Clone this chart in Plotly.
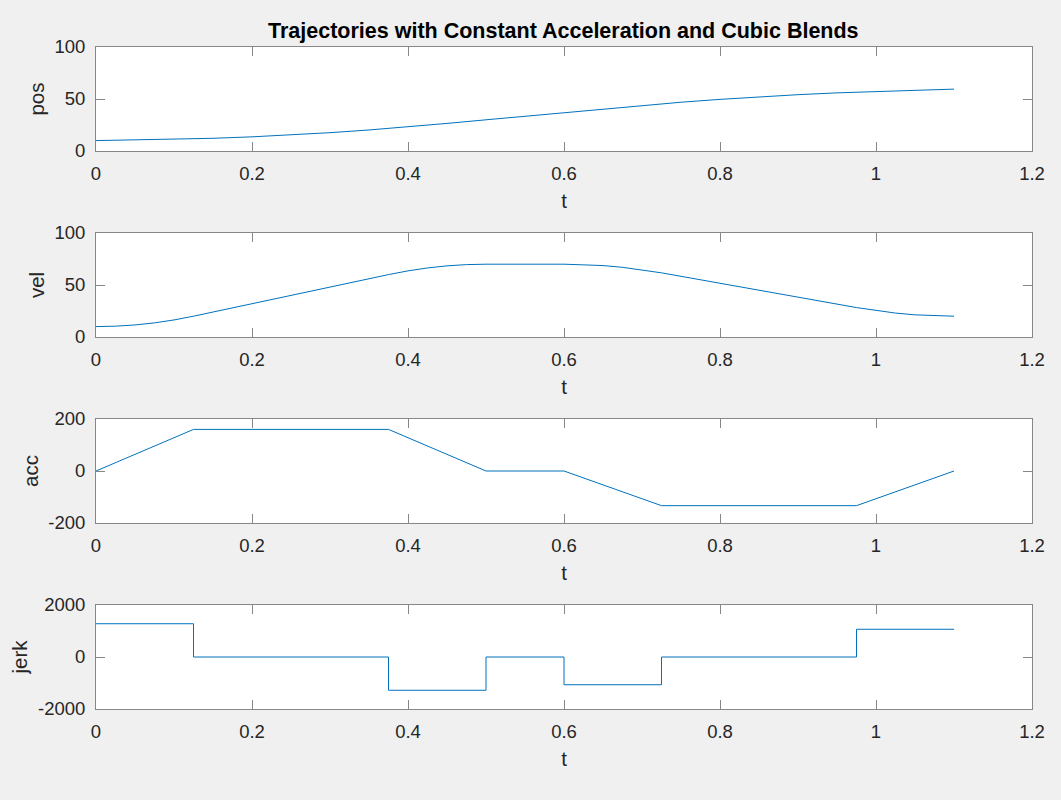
import plotly.graph_objects as go

# ---- data ----
t_pos = [0, 0.05, 0.1, 0.15, 0.2, 0.25, 0.3, 0.35, 0.4, 0.45, 0.5, 0.55, 0.6,
         0.65, 0.7, 0.75, 0.8, 0.85, 0.9, 0.95, 1.0, 1.05, 1.1]
pos = [10, 10.53, 11.21, 12.22, 13.62, 15.42, 17.62, 20.22, 23.21, 26.53, 30,
       33.5, 37, 40.48, 43.82, 46.90, 49.65, 52.07, 54.15, 55.90, 57.32, 58.48, 59.5]

t_vel = [0, 0.025, 0.05, 0.075, 0.1, 0.125, 0.375, 0.4, 0.425, 0.45, 0.475, 0.5,
         0.6, 0.625, 0.65, 0.675, 0.7, 0.725, 0.975, 1.0, 1.025, 1.05, 1.075, 1.1]
vel = [10, 10.4, 11.6, 13.6, 16.4, 20, 60, 63.6, 66.4, 68.4, 69.6, 70,
       70, 69.7, 68.7, 67.0, 64.7, 61.7, 28.3, 25.3, 23.0, 21.3, 20.3, 20]

t_acc = [0, 0.125, 0.375, 0.5, 0.6, 0.725, 0.975, 1.1]
acc = [0, 160, 160, 0, 0, -133.3, -133.3, 0]

t_jerk = [0, 0.125, 0.375, 0.5, 0.6, 0.725, 0.975, 1.1]
jerk = [1280, 0, -1280, 0, -1067, 0, 1067, 1067]

x_ticks = [0, 0.2, 0.4, 0.6, 0.8, 1.0, 1.2]
x_ticktext = ["0", "0.2", "0.4", "0.6", "0.8", "1", "1.2"]
y_labels = ["pos", "vel", "acc", "jerk"]
y_ranges = [[0, 100], [0, 100], [-200, 200], [-2000, 2000]]
y_ticks = [[0, 50, 100], [0, 50, 100], [-200, 0, 200], [-2000, 0, 2000]]
y_ticktext = [["0", "50", "100"], ["0", "50", "100"],
              ["-200", "0", "200"], ["-2000", "0", "2000"]]
title = "Trajectories with Constant Acceleration and Cubic Blends"

# ---- styling ----
W, H = 1061, 800
FONT = "Liberation Sans, Arial, sans-serif"
TXT = "#262626"
AX = "#878787"
LINE = "#0072BD"
TICK_FS = 18.5
LABEL_FS = 20.5
TITLE_FS = 21.5
x_dom = [96 / W, 1032 / W]
tops = [47, 233, 419, 605]
heights = 104

fig = go.Figure()
series = [(t_pos, pos, "linear"), (t_vel, vel, "linear"),
          (t_acc, acc, "linear"), (t_jerk, jerk, "hv")]
for i, (tx, ty, shape) in enumerate(series):
    k = "" if i == 0 else str(i + 1)
    fig.add_trace(go.Scatter(x=tx, y=ty, mode="lines",
                             line=dict(color=LINE, width=1, shape=shape),
                             xaxis="x" + k, yaxis="y" + k, showlegend=False))

layout = dict(
    template="none",
    width=W, height=H, autosize=False,
    margin=dict(l=0, r=0, t=0, b=0, pad=0),
    paper_bgcolor="#F0F0F0", plot_bgcolor="white",
    font=dict(family=FONT, size=TICK_FS, color=TXT),
    showlegend=False,
)
for i in range(4):
    k = "" if i == 0 else str(i + 1)
    top = tops[i]
    ydom = [1 - (top + heights) / H, 1 - top / H]
    common = dict(showline=True, mirror="allticks", linecolor=AX, linewidth=1,
                  ticks="inside", ticklen=9, tickcolor=AX, tickwidth=1,
                  showgrid=False, zeroline=False, automargin=False,
                  tickfont=dict(family=FONT, size=TICK_FS, color=TXT))
    layout["xaxis" + k] = dict(domain=x_dom, range=[0, 1.2], anchor="y" + k,
                               tickvals=x_ticks, ticktext=x_ticktext,
                               ticklabelstandoff=6,
                               title=dict(text="t", standoff=10,
                                          font=dict(family=FONT, size=LABEL_FS, color=TXT)),
                               **common)
    layout["yaxis" + k] = dict(domain=ydom, range=y_ranges[i], anchor="x" + k,
                               tickvals=y_ticks[i], ticktext=y_ticktext[i],
                               ticklabelstandoff=6,
                               title=dict(text=y_labels[i], standoff=4,
                                          font=dict(family=FONT, size=LABEL_FS, color=TXT)),
                               **common)
fig.update_layout(**layout)
fig.add_annotation(text="<b>" + title + "</b>", xref="paper", yref="paper",
                   x=(x_dom[0] + x_dom[1]) / 2, y=1 - 31 / H, xanchor="center",
                   yanchor="middle", showarrow=False,
                   font=dict(family=FONT, size=TITLE_FS, color="black"))
fig.write_html("out.html")
